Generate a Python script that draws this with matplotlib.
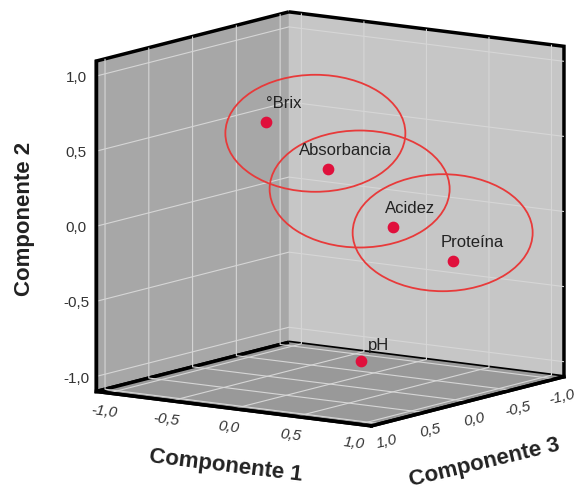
import matplotlib
matplotlib.use('Agg')
import matplotlib.pyplot as plt
from matplotlib.patches import Ellipse
from matplotlib.ticker import FuncFormatter, FixedLocator
from mpl_toolkits.mplot3d import proj3d
import numpy as np

plt.rcParams['font.family'] = ['Liberation Sans', 'DejaVu Sans']
plt.rcParams['grid.color'] = '#d6d6d6'
plt.rcParams['grid.linewidth'] = 0.8

# ---- data (component loadings) ----
variables = ['°Brix', 'Absorbancia', 'Acidez', 'Proteína', 'pH']
comp1 = [-0.51, -0.02, 0.50, 0.98, 0.31]
comp2 = [0.59, 0.33, 0.00, -0.18, -0.90]
comp3 = [0.00, 0.00, 0.00, 0.00, 0.09]
tick_values = [-1.0, -0.5, 0.0, 0.5, 1.0]
axis_titles = ['Componente 1', 'Componente 2', 'Componente 3']
# variables circled by the hand-drawn red ellipses
circled = ['°Brix', 'Absorbancia', 'Acidez']

# ---- styling ----
lim = (-1.1, 1.1)
point_color = '#e0103c'
ellipse_color = '#e83a3a'
label_offsets = {'°Brix': (0, 11), 'Absorbancia': (-29, 11), 'Acidez': (-8, 11),
                 'Proteína': (-12, 11), 'pH': (7, 8)}          # pixels (dx, dy up)
ellipse_offsets = {'°Brix': (49, -11), 'Absorbancia': (32, -20), 'Acidez': (50, -6)}
ellipse_size = (180, 117)  # pixels
title_style = dict(fontsize=16, fontweight='bold', color='#222222', ha='center', va='center')

W, H, DPI = 575, 491, 100
fig = plt.figure(figsize=(W / DPI, H / DPI), dpi=DPI)
ax = fig.add_axes([0.0626, 0.0407, 1.0, 1.0], projection='3d')
ax.set_proj_type('ortho')
ax.view_init(elev=10.3, azim=35)
ax.set_box_aspect((1, 1, 1), zoom=1.15)

# mapping: x = Componente 3, y = Componente 1, z = Componente 2
ax.set_xlim(*lim)
ax.set_ylim(*lim)
ax.set_zlim(*lim)

fmt = FuncFormatter(lambda v, p: f'{v:.1f}'.replace('.', ','))
for axis in (ax.xaxis, ax.yaxis, ax.zaxis):
    axis.set_major_locator(FixedLocator(tick_values))
    axis.set_major_formatter(fmt)
    axis._axinfo['tick']['inward_factor'] = 0.0
    axis._axinfo['tick']['outward_factor'] = 0.0
    axis.line.set_color('black')
    axis.line.set_linewidth(2.5)

ax.xaxis.set_pane_color('#c6c6c6')
ax.yaxis.set_pane_color('#a7a7a7')
ax.zaxis.set_pane_color('#999999')
for axis in (ax.xaxis, ax.yaxis, ax.zaxis):
    axis.pane.set_edgecolor('black')
    axis.pane.set_linewidth(2.5)

ax.tick_params(axis='both', labelsize=11, colors='#333333')
ax.tick_params(axis='z', pad=0)
ax.tick_params(axis='y', labelrotation=-7, pad=-3)
ax.tick_params(axis='x', labelrotation=13, pad=-3.5)
for t in ax.get_xticklabels() + ax.get_yticklabels():
    t.set_fontstyle('italic')
for t in ax.get_zticklabels():
    t.set_verticalalignment('center_baseline')

# axis titles drawn as figure text so they sit where the original has them
ax.set_xlabel('')
ax.set_ylabel('')
ax.set_zlabel('')
fig.text(0.392, 0.051, axis_titles[0], rotation=-7, **title_style)
fig.text(0.043, 0.554, axis_titles[1], rotation=90, **title_style)
fig.text(0.843, 0.057, axis_titles[2], rotation=13.5, **title_style)

ax.scatter(comp3, comp1, comp2, s=55, color=point_color, depthshade=False, zorder=5)

fig.canvas.draw()
M = ax.get_proj()
inv = fig.transFigure.inverted()

def to_pixels(name):
    i = variables.index(name)
    x2, y2, _ = proj3d.proj_transform(comp3[i], comp1[i], comp2[i], M)
    return ax.transData.transform((x2, y2))

for name in variables:
    px, py = to_pixels(name)
    dx, dy = label_offsets[name]
    fx, fy = inv.transform((px + dx, py + dy))
    fig.text(fx, fy, name, fontsize=12, color='#222222', ha='left', va='bottom')

for name in circled:
    px, py = to_pixels(name)
    dx, dy = ellipse_offsets[name]
    fx, fy = inv.transform((px + dx, py + dy))
    fig.add_artist(Ellipse((fx, fy), ellipse_size[0] / W, ellipse_size[1] / H,
                           transform=fig.transFigure, fill=False,
                           edgecolor=ellipse_color, linewidth=1.3))

fig.savefig('out.png', dpi=DPI)
